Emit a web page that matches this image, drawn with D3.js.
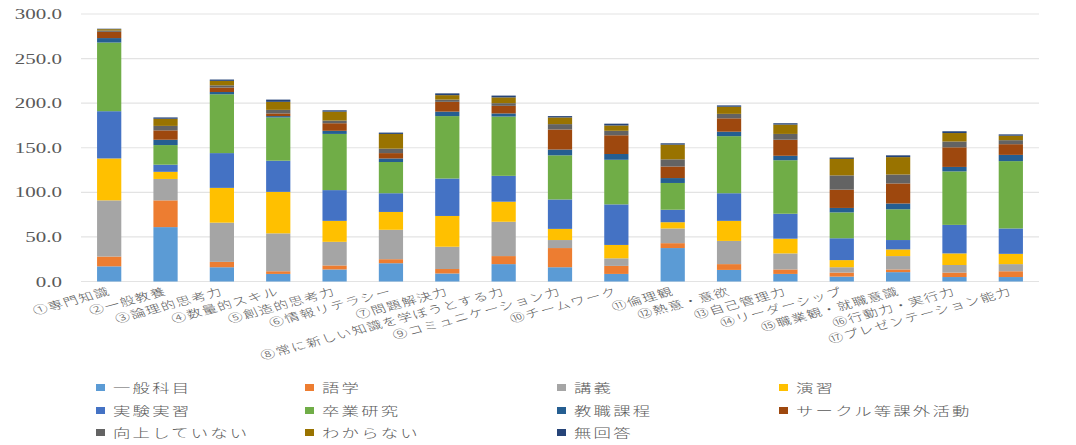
<!DOCTYPE html>
<html>
<head>
<meta charset="utf-8">
<script src="https://cdn.jsdelivr.net/npm/d3@7"></script>
<style>
  html, body { margin: 0; padding: 0; background: #ffffff; }
  svg { display: block; }
  text { fill: #595959; }
</style>
</head>
<body>
<svg id="chart" width="1076" height="445"></svg>
<script>
// Categories (abilities) along the x axis
const categories = [
  "①専門知識", "②一般教養", "③論理的思考力", "④数量的スキル", "⑤創造的思考力",
  "⑥情報リテラシー", "⑦問題解決力", "⑧常に新しい知識を学ぼうとする力", "⑨コミュニケーション力",
  "⑩チームワーク", "⑪倫理観", "⑫熱意・意欲", "⑬自己管理力", "⑭リーダーシップ",
  "⑮職業観・就職意識", "⑯行動力・実行力", "⑰プレゼンテーション能力"
];

// Series names (stack order, bottom to top)
const seriesNames = [
  "一般科目", "語学", "講義", "演習", "実験実習", "卒業研究",
  "教職課程", "サークル等課外活動", "向上していない", "わからない", "無回答"
];

// Series values, one entry per category
const ippanKamoku   = [17, 61, 16, 8.5, 13.5, 20.5, 9, 19.5, 16, 8.5, 37.5, 13, 8.5, 5.5, 10.5, 5, 5];
const gogaku        = [11, 30, 6, 3, 4.5, 4.5, 5, 9, 21.5, 9, 5.5, 6.5, 5, 4.5, 3, 5, 6.5];
const kougi         = [63, 24, 44, 42.5, 26.5, 33, 25, 38.5, 9, 8.5, 16.5, 26, 18, 6, 15, 8.5, 8];
const enshu         = [47, 8, 39, 46.5, 23.5, 20, 34.5, 22.5, 12.5, 15, 7, 22.5, 16.5, 8, 7.5, 13, 11.5];
const jikkenJisshu  = [53, 8, 39, 35, 34.5, 21, 42, 29, 33, 45.5, 14, 31, 28, 24.5, 10.5, 32, 28.5];
const sotsugyoKenkyu= [77, 22, 66, 48.5, 63, 35, 70, 66.5, 49.5, 50, 30, 64, 60, 29, 34.5, 60, 75.5];
const kyoshokuKatei = [5, 6, 2.5, 1.5, 3.5, 4, 5, 3.5, 6.5, 6.5, 5.5, 5, 5, 5, 6.5, 5, 7];
const circle        = [7, 10.5, 5, 3, 8.5, 6, 11, 8.5, 22.5, 21, 13, 15, 18, 20.5, 22.5, 22, 12];
const koujouNashi   = [1.5, 5, 2.5, 4, 3, 5, 2.5, 3, 6, 5, 8, 5, 6.5, 16, 10, 6.5, 4.5];
const wakaranai     = [1.5, 8, 5, 9, 10, 16.5, 5, 6.5, 7.5, 6, 16.5, 8, 10.5, 18.5, 19.5, 9.5, 5];
const mukaitou      = [0.5, 1.5, 1.5, 2.5, 1.5, 1.5, 2, 2, 1.5, 2, 1.5, 1.5, 1.5, 1.5, 2, 2, 1.5];

// Y axis ticks
const yTicks = [0, 50, 100, 150, 200, 250, 300];

const seriesValues = [
  ippanKamoku, gogaku, kougi, enshu, jikkenJisshu, sotsugyoKenkyu,
  kyoshokuKatei, circle, koujouNashi, wakaranai, mukaitou
];
const colors = [
  "#5B9BD5", "#ED7D31", "#A5A5A5", "#FFC000", "#4472C4", "#70AD47",
  "#255E91", "#9E480E", "#636363", "#997300", "#264478"
];

// Build a table of rows for d3.stack
const rows = categories.map((c, i) => {
  const r = { category: c };
  seriesNames.forEach((s, k) => { r[s] = seriesValues[k][i]; });
  return r;
});
const stacked = d3.stack().keys(seriesNames)(rows);

const svg = d3.select("#chart");
const plot = { left: 81, right: 1039, top: 14, bottom: 281.5 };

const x = d3.scaleBand()
  .domain(categories)
  .range([plot.left, plot.right])
  .paddingInner(0.57)
  .paddingOuter(0.285);

const y = d3.scaleLinear()
  .domain([0, 300])
  .range([plot.bottom, plot.top]);

const color = d3.scaleOrdinal().domain(seriesNames).range(colors);

// Horizontal gridlines
svg.append("g")
  .selectAll("line")
  .data(yTicks)
  .join("line")
  .attr("x1", plot.left)
  .attr("x2", plot.right)
  .attr("y1", d => y(d))
  .attr("y2", d => y(d))
  .attr("stroke", "#e3e3e3")
  .attr("stroke-width", 1.2);

// Y tick labels (horizontally widened text)
svg.append("g")
  .selectAll("text")
  .data(yTicks)
  .join("text")
  .attr("transform", d => `translate(62,${y(d) + 5}) scale(1.5,1)`)
  .attr("text-anchor", "end")
  .attr("font-family", "'Liberation Serif', 'DejaVu Serif', serif")
  .attr("font-size", 14)
  .text(d3.format(".1f"));

// Stacked bars
svg.append("g")
  .selectAll("g")
  .data(stacked)
  .join("g")
  .attr("fill", d => color(d.key))
  .selectAll("rect")
  .data(d => d)
  .join("rect")
  .attr("x", d => x(d.data.category))
  .attr("width", x.bandwidth())
  .attr("y", d => y(d[1]))
  .attr("height", d => y(d[0]) - y(d[1]));

// Category labels, rotated
svg.append("g")
  .selectAll("text")
  .data(categories)
  .join("text")
  .attr("transform", d => `translate(${x(d) + x.bandwidth() / 2 + 2},${plot.bottom + 13}) scale(1.35,1) rotate(-20)`)
  .attr("text-anchor", "end")
  .attr("font-family", "'Noto Sans CJK JP', sans-serif")
  .attr("font-size", 11)
  .attr("font-weight", 300)
  .attr("letter-spacing", 1)
  .attr("fill", "#808080")
  .text(d => d);

// Legend: 4 columns, 3 rows
const legendCols = [96, 305, 557, 779];
const legendRows = [388, 411, 433];
const legend = svg.append("g")
  .selectAll("g")
  .data(seriesNames)
  .join("g")
  .attr("transform", (d, i) => `translate(${legendCols[i % 4]},${legendRows[Math.floor(i / 4)]})`);

legend.append("rect")
  .attr("x", 0)
  .attr("y", -4)
  .attr("width", 9)
  .attr("height", 7)
  .attr("fill", d => color(d));

legend.append("text")
  .attr("transform", "translate(17,5) scale(1.45,1)")
  .attr("font-family", "'Noto Sans CJK JP', sans-serif")
  .attr("font-size", 12)
  .attr("font-weight", 300)
  .attr("letter-spacing", 1.5)
  .text(d => d);
</script>
</body>
</html>
